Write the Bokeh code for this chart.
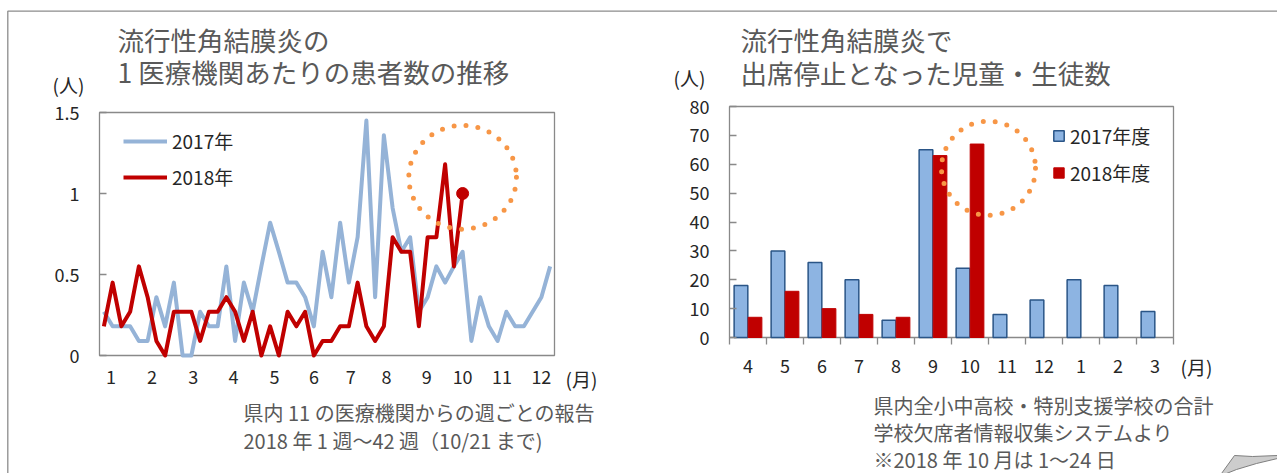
from bokeh.plotting import figure
from bokeh.models import (ColumnDataSource, Label, Legend, LegendItem, FixedTicker,
                          NumeralTickFormatter, Range1d, LinearAxis)
from bokeh.transform import dodge
from bokeh.embed import file_html
from bokeh.resources import INLINE

FONT = "Noto Sans CJK JP"
TITLE_C = "#595959"
TEXT_C = "#262626"
FRAME_C = "#898989"

# ---------------- data: left chart (weekly reports per institution) ----------------
weeks_2017 = list(range(1, 53))
cases_2017 = [0.27, 0.18, 0.18, 0.18, 0.09, 0.09, 0.36, 0.18, 0.45, 0.0,
              0.0, 0.27, 0.18, 0.18, 0.55, 0.09, 0.45, 0.27, 0.55, 0.82,
              0.64, 0.45, 0.45, 0.36, 0.18, 0.64, 0.36, 0.82, 0.45, 0.73,
              1.45, 0.36, 1.36, 0.91, 0.64, 0.73, 0.27, 0.36, 0.55, 0.45,
              0.55, 0.64, 0.09, 0.36, 0.18, 0.09, 0.27, 0.18, 0.18, 0.27,
              0.36, 0.55]
weeks_2018 = list(range(1, 43))
cases_2018 = [0.18, 0.45, 0.18, 0.27, 0.55, 0.36, 0.09, 0.0, 0.27, 0.27,
              0.27, 0.09, 0.27, 0.27, 0.36, 0.27, 0.09, 0.27, 0.0, 0.18,
              0.0, 0.27, 0.18, 0.27, 0.0, 0.09, 0.09, 0.18, 0.18, 0.45,
              0.18, 0.09, 0.18, 0.73, 0.64, 0.64, 0.18, 0.73, 0.73, 1.18,
              0.55, 1.0]
month_labels_cal = ["1", "2", "3", "4", "5", "6", "7", "8", "9", "10", "11", "12"]
month_label_weeks = [1.8, 6.5, 11.2, 15.8, 20.5, 25.0, 29.2, 33.3, 37.9, 42.0, 46.5, 51.0]
series_left = ["2017年", "2018年"]

# ---------------- data: right chart (students suspended) ----------------
months_fy = ["4", "5", "6", "7", "8", "9", "10", "11", "12", "1", "2", "3"]
absent_2017 = [18, 30, 26, 20, 6, 65, 24, 8, 13, 20, 18, 9]
absent_2018 = [7, 16, 10, 8, 7, 63, 67]
series_right = ["2017年度", "2018年度"]

# ---------------- layout (page pixels) ----------------
W, H = 1277, 473
L1, R1, T1, B1 = 99, 554, 112, 355      # left plot box
L2, R2, T2, B2 = 729, 1173, 106, 337    # right plot box
WK0, WK1, V0, V1 = 0.5, 52.5, 0.0, 1.5
C0, C1, N0, N1 = 0.0, 12.0, 0.0, 80.0


def page_range(d0, d1, p0, p1, total, flip=False):
    k = (d1 - d0) / (p1 - p0)
    if flip:   # page y grows downward, data upward
        return Range1d(d0 - (total - p1) * k, d1 + p0 * k)
    return Range1d(d0 - p0 * k, d1 + (total - p1) * k)


p = figure(width=W, height=H, x_range=Range1d(0, W), y_range=Range1d(H, 0),
           x_axis_type=None, y_axis_type=None, output_backend="svg",
           toolbar_location=None, min_border=0)
p.min_border_left = p.min_border_right = p.min_border_top = p.min_border_bottom = 0
p.outline_line_color = None
p.xgrid.visible = False
p.ygrid.visible = False
p.background_fill_color = "white"
p.border_fill_color = "white"
p.extra_x_ranges = {"wk": page_range(WK0, WK1, L1, R1, W),
                    "cat": page_range(C0, C1, L2, R2, W)}
p.extra_y_ranges = {"val": page_range(V0, V1, T1, B1, H, flip=True),
                    "cnt": page_range(N0, N1, T2, B2, H, flip=True)}

# outer page border and folded corner
p.line(x=[7.3, 7.3, W], y=[H, 10.7, 10.7], line_color="#8c8c8c", line_width=1.3)
p.patch(x=[1221, 1234, 1252, 1277, 1277, 1256, 1236, 1226],
        y=[473, 455, 456, 455, 458, 463, 469, 473],
        fill_color="#cdcdcd", line_color="#7f7f7f", line_width=1)

# ================= left chart =================
p.quad(left=WK0, right=WK1, bottom=V0, top=V1, x_range_name="wk", y_range_name="val",
       fill_color="white", line_color=FRAME_C, line_width=1.3)

src17 = ColumnDataSource(dict(week=weeks_2017, v=cases_2017))
src18 = ColumnDataSource(dict(week=weeks_2018, v=cases_2018))
r17 = p.line("week", "v", source=src17, x_range_name="wk", y_range_name="val",
             line_color="#95B3D7", line_width=4, line_join="round")
r18 = p.line("week", "v", source=src18, x_range_name="wk", y_range_name="val",
             line_color="#C00000", line_width=4, line_join="round")
p.scatter(x=[weeks_2018[-1]], y=[cases_2018[-1]], size=12, color="#C00000",
          x_range_name="wk", y_range_name="val")
p.ellipse(x=weeks_2018[-1], y=cases_2018[-1] + 0.1, width=12.3, height=0.64,
          x_range_name="wk", y_range_name="val",
          fill_color=None, line_color="#F79646", line_width=5, line_dash="0 12", line_cap="round")

ax = LinearAxis(x_range_name="wk", y_range_name="val", fixed_location=V0)
ax.ticker = FixedTicker(ticks=month_label_weeks)
ax.major_label_overrides = dict(zip(month_label_weeks, month_labels_cal))
ax.axis_line_color = None
ax.major_tick_line_color = None
ax.minor_tick_line_color = None
ax.major_tick_out = 0
ax.major_tick_in = 0
ax.minor_tick_out = 0
ax.minor_tick_in = 0
ax.major_label_standoff = 14
ax.major_label_text_font = FONT
ax.major_label_text_font_size = "18px"
ax.major_label_text_color = TEXT_C
p.add_layout(ax, "below")

ay = LinearAxis(x_range_name="wk", y_range_name="val", fixed_location=WK0)
ay.ticker = FixedTicker(ticks=[0, 0.5, 1, 1.5])
ay.formatter = NumeralTickFormatter(format="0.[0]")
ay.axis_line_color = None
ay.major_tick_in = 7
ay.major_tick_out = 0
ay.major_tick_line_color = FRAME_C
ay.major_tick_line_width = 1.3
ay.minor_tick_line_color = None
ay.minor_tick_out = 0
ay.minor_tick_in = 0
ay.major_label_standoff = 20
ay.major_label_text_font = FONT
ay.major_label_text_font_size = "18px"
ay.major_label_text_color = TEXT_C
p.add_layout(ay, "left")

leg1 = Legend(items=[LegendItem(label=series_left[0], renderers=[r17]),
                     LegendItem(label=series_left[1], renderers=[r18])],
              location=(123, 283), orientation="vertical", glyph_width=44, glyph_height=20,
              label_height=20, spacing=9, label_standoff=5, padding=0, margin=0,
              border_line_color=None, background_fill_alpha=0,
              label_text_font=FONT, label_text_font_size="19px", label_text_color=TEXT_C)
p.add_layout(leg1)

# ================= right chart =================
p.quad(left=C0, right=C1, bottom=N0, top=N1, x_range_name="cat", y_range_name="cnt",
       fill_color="white", line_color=FRAME_C, line_width=1.3)

centers = [i + 0.5 for i in range(len(months_fy))]
bsrc17 = ColumnDataSource(dict(pos=centers, v=absent_2017))
bsrc18 = ColumnDataSource(dict(pos=centers[:len(absent_2018)], v=absent_2018))
rb17 = p.vbar(x=dodge("pos", -0.19), top="v", width=0.37, source=bsrc17,
              x_range_name="cat", y_range_name="cnt",
              fill_color="#8DB4E2", line_color="#2A5587", line_width=1.5)
rb18 = p.vbar(x=dodge("pos", 0.19), top="v", width=0.37, source=bsrc18,
              x_range_name="cat", y_range_name="cnt",
              fill_color="#C00000", line_color="#C00000", line_width=1)
p.ellipse(x=len(absent_2018), y=absent_2018[-1] - 8.4, width=2.54, height=32.6,
          x_range_name="cat", y_range_name="cnt",
          fill_color=None, line_color="#F79646", line_width=5, line_dash="0 12", line_cap="round")

bx = LinearAxis(x_range_name="cat", y_range_name="cnt", fixed_location=N0)
bx.ticker = FixedTicker(ticks=centers, minor_ticks=list(range(len(months_fy) + 1)))
bx.major_label_overrides = dict(zip(centers, months_fy))
bx.axis_line_color = None
bx.major_tick_line_color = None
bx.major_tick_out = 0
bx.major_tick_in = 0
bx.minor_tick_line_color = FRAME_C
bx.minor_tick_line_width = 1.3
bx.minor_tick_out = 7
bx.minor_tick_in = 0
bx.major_label_standoff = 14
bx.major_label_text_font = FONT
bx.major_label_text_font_size = "18px"
bx.major_label_text_color = TEXT_C
p.add_layout(bx, "below")

by = LinearAxis(x_range_name="cat", y_range_name="cnt", fixed_location=C0)
by.ticker = FixedTicker(ticks=list(range(0, 81, 10)))
by.axis_line_color = None
by.major_tick_in = 7
by.major_tick_out = 0
by.major_tick_line_color = FRAME_C
by.major_tick_line_width = 1.3
by.minor_tick_line_color = None
by.minor_tick_out = 0
by.minor_tick_in = 0
by.major_label_standoff = 20
by.major_label_text_font = FONT
by.major_label_text_font_size = "18px"
by.major_label_text_color = TEXT_C
p.add_layout(by, "left")

leg2 = Legend(items=[LegendItem(label=series_right[0], renderers=[rb17]),
                     LegendItem(label=series_right[1], renderers=[rb18])],
              location=(1052, 287), orientation="vertical", glyph_width=13, glyph_height=13,
              label_height=13, spacing=10, label_standoff=5, padding=0, margin=0,
              border_line_color=None, background_fill_alpha=0,
              label_text_font=FONT, label_text_font_size="19px", label_text_color=TEXT_C)
p.add_layout(leg2)


# ================= texts (page coordinates) =================
def lbl(x, y, text, size, color):
    p.add_layout(Label(x=x, y=y, text=text, text_font=FONT, text_font_size=size,
                       text_color=color, text_align="left", text_baseline="middle"))


lbl(117, 39, "流行性角結膜炎の", "26.5px", TITLE_C)
lbl(117, 71, "1 医療機関あたりの患者数の推移", "26.5px", TITLE_C)
lbl(52, 84, "(人)", "19px", TEXT_C)
lbl(565, 378, "(月)", "19px", TEXT_C)
lbl(243, 412, "県内 11 の医療機関からの週ごとの報告", "20px", TITLE_C)
lbl(243, 440, "2018 年 1 週〜42 週（10/21 まで)", "20px", TITLE_C)

lbl(740, 39, "流行性角結膜炎で", "26.5px", TITLE_C)
lbl(740, 72, "出席停止となった児童・生徒数", "26.5px", TITLE_C)
lbl(673, 77, "(人)", "19px", TEXT_C)
lbl(1180, 366, "(月)", "19px", TEXT_C)
lbl(873, 405, "県内全小中高校・特別支援学校の合計", "20px", TITLE_C)
lbl(873, 432, "学校欠席者情報収集システムより", "20px", TITLE_C)
lbl(873, 459, "※2018 年 10 月は 1〜24 日", "20px", TITLE_C)

open("out.html", "w").write(file_html(p, INLINE))
